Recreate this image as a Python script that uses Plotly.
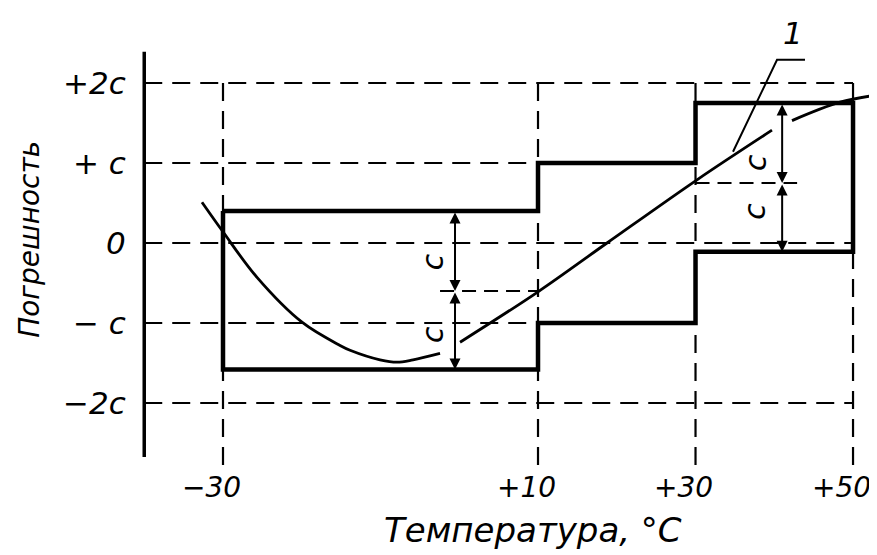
import plotly.graph_objects as go

# ---------------- data ----------------
x_ticks = [-30, 10, 30, 50]
x_tick_labels = ["−30", "+10", "+30", "+50"]
y_ticks = [2, 1, 0, -1, -2]
y_tick_labels = ["+2c", "+ c", "0", "− c", "−2c"]

band_x_start = [-30, 10, 30]
band_x_end = [10, 30, 50]
band_upper = [0.4, 1.0, 1.75]
band_lower = [-1.58, -1.0, -0.11]
band_center = [-0.6, 0.0, 0.75]

curve_x = [-32.67, -30.0, -25.68, -19.97, -15.14, -13.87, -10.06, -7.90, -5.87, -2.44, None,
           0.10, 10.0, 18.76, 30.19, 39.71, None,
           42.25, 48.35, 53.05]
curve_y = [0.51, 0.14, -0.43, -0.99, -1.28, -1.34, -1.46, -1.49, -1.46, -1.38, None,
           -1.24, -0.61, 0.0, 0.79, 1.41, None,
           1.53, 1.76, 1.85]

leader_x = [34.76, 40.35, 43.9]
leader_y = [1.14, 2.29, 2.29]
curve_label = "1"

y_title = "Погрешность"
x_title = "Температура, °С"

# ---------------- figure ----------------
FONT = "DejaVu Sans"
fig = go.Figure()

dash = "18px,10px"
dcol = "black"

# dashed horizontal grid lines
h_lines = [(2, -40, 50), (1, -40, 10), (0, -40, 50), (-1, -40, 10), (-2, -40, 50)]
for yv, x0, x1 in h_lines:
    fig.add_trace(go.Scatter(x=[x0, x1], y=[yv, yv], mode="lines",
                             line=dict(color=dcol, width=2.2, dash=dash),
                             hoverinfo="skip", showlegend=False))
# dashed vertical lines
for xv in x_ticks:
    fig.add_trace(go.Scatter(x=[xv, xv], y=[2, -2.78], mode="lines",
                             line=dict(color=dcol, width=2.2, dash=dash),
                             hoverinfo="skip", showlegend=False))

# dashed centre lines of the dimensioned bands
center_spans = [(-2.44, 10, band_center[0]), (30, 42.9, band_center[2])]
for x0, x1, yv in center_spans:
    fig.add_trace(go.Scatter(x=[x0, x1], y=[yv, yv], mode="lines",
                             line=dict(color=dcol, width=2.2, dash="14px,8px"),
                             hoverinfo="skip", showlegend=False))

# y axis line
fig.add_trace(go.Scatter(x=[-40, -40], y=[2.39, -2.675], mode="lines",
                         line=dict(color="black", width=3.5),
                         hoverinfo="skip", showlegend=False))

# stepped envelope (thick solid)
env_x, env_y = [], []
for i in range(len(band_x_start)):
    env_x += [band_x_start[i], band_x_end[i]]
    env_y += [band_upper[i], band_upper[i]]
for i in reversed(range(len(band_x_start))):
    env_x += [band_x_end[i], band_x_start[i]]
    env_y += [band_lower[i], band_lower[i]]
env_x.append(env_x[0])
env_y.append(env_y[0])
fig.add_trace(go.Scatter(x=env_x, y=env_y, mode="lines",
                         line=dict(color="black", width=4.5),
                         hoverinfo="skip", showlegend=False))

# characteristic curve
fig.add_trace(go.Scatter(x=curve_x, y=curve_y, mode="lines",
                         line=dict(color="black", width=2.8, shape="spline", smoothing=1.0),
                         connectgaps=False, hoverinfo="skip", showlegend=False))

# leader for label "1"
fig.add_trace(go.Scatter(x=leader_x, y=leader_y, mode="lines",
                         line=dict(color="black", width=2),
                         hoverinfo="skip", showlegend=False))

annotations = []
# dimension arrows
dim_x = [-0.54, 41.0]
for xa, bi in zip(dim_x, [0, 2]):
    for ya, yb in [(band_upper[bi], band_center[bi]), (band_center[bi], band_lower[bi])]:
        annotations.append(dict(x=xa, y=yb, ax=xa, ay=ya, xref="x", yref="y",
                                axref="x", ayref="y", text="", showarrow=True,
                                arrowhead=2, arrowside="end+start", arrowsize=1.1,
                                arrowwidth=2, arrowcolor="black", standoff=0, startstandoff=0))
# "c" labels for dimensions
c_pos = [(-3.46, -0.24), (-3.46, -1.15), (37.56, 1.0), (37.56, 0.39)]
for cx, cy in c_pos:
    annotations.append(dict(x=cx, y=cy, xref="x", yref="y", text="c", showarrow=False,
                            textangle=-90, font=dict(family=FONT, size=30, color="black", style="italic")))

# tick labels
for xv, lab in zip(x_ticks, x_tick_labels):
    annotations.append(dict(x=xv, y=-3.05, xref="x", yref="y", text=lab, showarrow=False,
                            xshift=-12, font=dict(family=FONT, size=28, color="black", style="italic")))
for yv, lab in zip(y_ticks, y_tick_labels):
    annotations.append(dict(x=-40, y=yv, xref="x", yref="y", text=lab, showarrow=False,
                            xanchor="right", xshift=-16,
                            font=dict(family=FONT, size=31, color="black", style="italic")))

# axis titles
annotations.append(dict(x=-54.5, y=0.04, xref="x", yref="y", text=y_title, showarrow=False,
                        textangle=-90, font=dict(family=FONT, size=28, color="black", style="italic")))
annotations.append(dict(x=9.4, y=-3.59, xref="x", yref="y", text=x_title, showarrow=False,
                        font=dict(family=FONT, size=34, color="black", style="italic")))
# curve label
annotations.append(dict(x=42.38, y=2.625, xref="x", yref="y", text=curve_label, showarrow=False,
                        font=dict(family=FONT, size=31, color="black", style="italic")))

# ranges compensate for the 8px page margin of the html body
fig.update_layout(
    width=877, height=555,
    margin=dict(l=0, r=0, t=0, b=0),
    paper_bgcolor="white", plot_bgcolor="white",
    xaxis=dict(range=[-57.30, 54.06], visible=False, fixedrange=True),
    yaxis=dict(range=[-4.0, 2.9375], visible=False, fixedrange=True),
    annotations=annotations,
    showlegend=False,
)

fig.write_html("out.html")
